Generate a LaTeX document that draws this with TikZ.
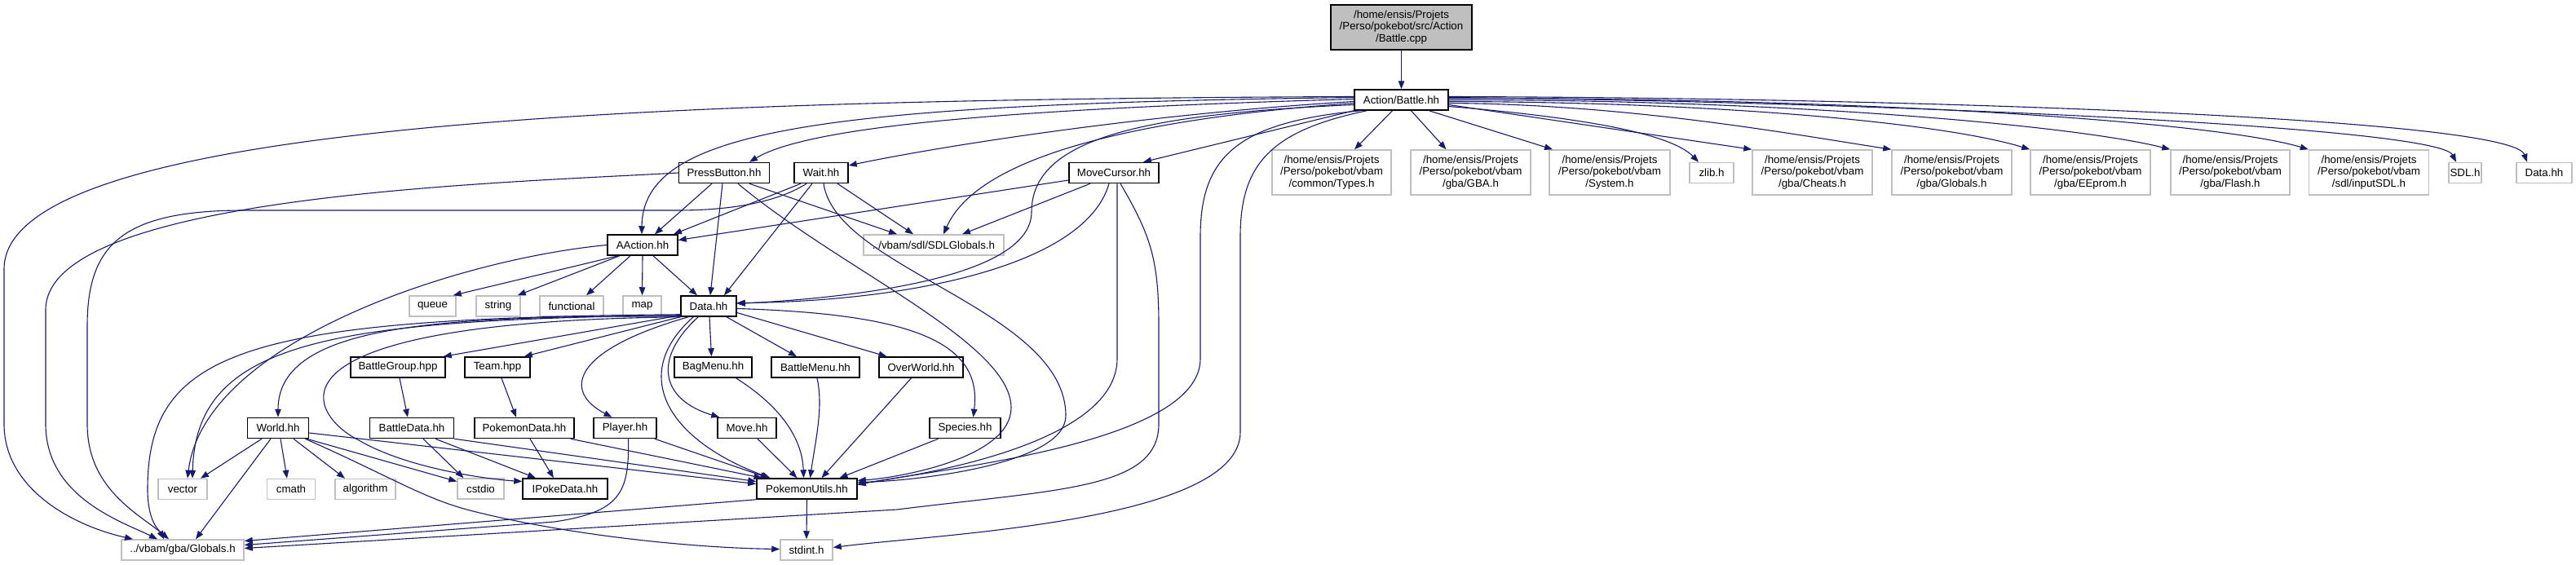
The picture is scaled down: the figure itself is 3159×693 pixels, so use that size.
\documentclass[tikz,border=0pt]{standalone}
\usepackage{fontspec}
\setmainfont{Liberation Sans}
\usetikzlibrary{arrows.meta}
\definecolor{edgec}{HTML}{191970}
\definecolor{grayb}{HTML}{BFBFBF}
\begin{document}
\begin{tikzpicture}[x=1pt,y=-1pt,
  every node/.style={font=\fontsize{13.3}{14.5}\selectfont, inner sep=0pt, align=center},
  hbox/.style={draw=black, line width=1.5pt, fill=white, minimum height=25pt},
  xbox/.style={draw=grayb, line width=1.5pt, fill=white, minimum height=25pt},
  xbox3/.style={draw=grayb, line width=1.5pt, fill=white, minimum height=55pt},
  rootbox/.style={draw=black, line width=1.5pt, fill=grayb, minimum height=55pt},
  dep/.style={draw=edgec, line width=1.1pt, -{Triangle[length=10pt,width=7.5pt]}},
]
\useasboundingbox[fill=white] (0,0) rectangle (3159,693);

% ---------- nodes ----------
\node[rootbox, minimum width=173pt] (cpp) at (1718.5,33.5) {/home/ensis/Projets\\/Perso/pokebot/src/Action\\/Battle.cpp};
\node[hbox, minimum width=115pt] (battlehh) at (1718.5,122.5) {Action/Battle.hh};

\node[hbox, minimum width=111pt] (pressbutton) at (888,212) {PressButton.hh};
\node[hbox, minimum width=66pt] (wait) at (1007,212) {Wait.hh};
\node[hbox, minimum width=110pt] (movecursor) at (1366,212) {MoveCursor.hh};
\node[xbox3, minimum width=146pt] (types) at (1633,211.5) {/home/ensis/Projets\\/Perso/pokebot/vbam\\/common/Types.h};
\node[xbox3, minimum width=147pt] (gbah) at (1803.5,211.5) {/home/ensis/Projets\\/Perso/pokebot/vbam\\/gba/GBA.h};
\node[xbox3, minimum width=148pt] (systemh) at (1974,211.5) {/home/ensis/Projets\\/Perso/pokebot/vbam\\/System.h};
\node[xbox, minimum width=54pt] (zlib) at (2099,212) {zlib.h};
\node[xbox3, minimum width=147pt] (cheats) at (2222.5,211.5) {/home/ensis/Projets\\/Perso/pokebot/vbam\\/gba/Cheats.h};
\node[xbox3, minimum width=147pt] (vglobals) at (2393.5,211.5) {/home/ensis/Projets\\/Perso/pokebot/vbam\\/gba/Globals.h};
\node[xbox3, minimum width=147pt] (eeprom) at (2563.5,211.5) {/home/ensis/Projets\\/Perso/pokebot/vbam\\/gba/EEprom.h};
\node[xbox3, minimum width=146pt] (flash) at (2735,211.5) {/home/ensis/Projets\\/Perso/pokebot/vbam\\/gba/Flash.h};
\node[xbox3, minimum width=147pt] (inputsdl) at (2905,211.5) {/home/ensis/Projets\\/Perso/pokebot/vbam\\/sdl/inputSDL.h};
\node[xbox, minimum width=40pt] (sdlh) at (3023,212) {SDL.h};
\node[xbox, minimum width=68pt] (data2) at (3120,212) {Data.hh};

\node[hbox, minimum width=86pt] (aaction) at (788,300.5) {AAction.hh};
\node[xbox, minimum width=172pt] (sdlglobals) at (1145,300.5) {../vbam/sdl/SDLGlobals.h};

\node[xbox, minimum width=57pt] (queue) at (530.5,375.5) {queue};
\node[xbox, minimum width=54pt] (string) at (611,375.5) {string};
\node[xbox, minimum width=78pt] (functional) at (701,375.5) {functional};
\node[xbox, minimum width=47pt] (map) at (787.5,375.5) {map};
\node[hbox, minimum width=68pt] (datahh) at (869,375.5) {Data.hh};

\node[hbox, minimum width=116pt] (battlegroup) at (488,450.5) {BattleGroup.hpp};
\node[hbox, minimum width=80pt] (team) at (610,450.5) {Team.hpp};
\node[hbox, minimum width=95pt] (bagmenu) at (874.5,450.5) {BagMenu.hh};
\node[hbox, minimum width=108pt] (battlemenu) at (1000,450.5) {BattleMenu.hh};
\node[hbox, minimum width=103pt] (overworld) at (1129.5,450.5) {OverWorld.hh};

\node[hbox, minimum width=75pt] (world) at (341,525) {World.hh};
\node[hbox, minimum width=103pt] (battledata) at (505,525) {BattleData.hh};
\node[hbox, minimum width=122pt] (pokemondata) at (643,525) {PokemonData.hh};
\node[hbox, minimum width=77pt] (player) at (766.5,525) {Player.hh};
\node[hbox, minimum width=72pt] (move) at (916,525) {Move.hh};
\node[hbox, minimum width=87pt] (species) at (1183.5,525) {Species.hh};

\node[xbox, minimum width=60pt] (vector) at (224,600) {vector};
\node[xbox, minimum width=59pt] (cmath) at (357,600) {cmath};
\node[xbox, minimum width=74pt] (algorithm) at (448,600) {algorithm};
\node[xbox, minimum width=57pt] (cstdio) at (589.5,599.5) {cstdio};
\node[hbox, minimum width=104pt] (ipokedata) at (693,599.5) {IPokeData.hh};
\node[hbox, minimum width=123pt] (pokemonutils) at (989.5,599.5) {PokemonUtils.hh};

\node[xbox, minimum width=150pt] (globalsgba) at (224,674.5) {../vbam/gba/Globals.h};
\node[xbox, minimum width=64pt] (stdint) at (989,674.5) {stdint.h};

% ---------- edges ----------
\draw[dep] (cpp) -- (battlehh);

% Action/Battle.hh
\draw[dep] ([yshift=4pt]battlehh.west) .. controls (800,122) and (5,150) .. (5,330) -- (5,520) .. controls (5,600) and (90,645) .. ([xshift=-61pt]globalsgba.north);
\draw[dep] ([yshift=3pt]battlehh.west) .. controls (1000,128) and (788,160) .. ([xshift=-1pt]aaction.north);
\draw[dep] ([yshift=1pt]battlehh.west) .. controls (1300,132) and (1000,150) .. ([xshift=31pt]pressbutton.north);
\draw[dep] ([yshift=-2pt]battlehh.west) .. controls (1400,140) and (1150,180) .. ([yshift=9pt]wait.east);
\draw[dep] ([yshift=-4pt]battlehh.west) .. controls (1400,145) and (1200,190) .. ([xshift=12pt]sdlglobals.north);
\draw[dep] ([yshift=-6pt]battlehh.west) .. controls (1400,140) and (1265,170) .. (1265,260) .. controls (1265,340) and (1050,365) .. ([yshift=3pt]datahh.east);
\draw[dep] (battlehh.south west) -- ([xshift=36pt]movecursor.north);
\draw[dep] ([xshift=8pt]battlehh.south west) .. controls (1520,150) and (1472,190) .. (1472,290) -- (1472,440) .. controls (1472,545) and (1150,575) .. ([yshift=5pt]pokemonutils.east);
\draw[dep] ([xshift=16pt]battlehh.south west) .. controls (1560,160) and (1521,200) .. (1521,290) -- (1521,530) .. controls (1521,640) and (1150,655) .. ([yshift=3pt]stdint.east);
\draw[dep] ([xshift=-11pt]battlehh.south) -- ([xshift=28pt]types.north);
\draw[dep] ([xshift=12pt]battlehh.south) -- ([xshift=-30pt]gbah.north);
\draw[dep] ([xshift=34pt]battlehh.south) -- ([xshift=-70pt]systemh.north);
\draw[dep] ([yshift=-8pt]battlehh.east) .. controls (1950,145) and (2050,165) .. ([xshift=-16pt]zlib.north);
\draw[dep] ([yshift=-6pt]battlehh.east) -- (cheats.north west);
\draw[dep] ([yshift=-4pt]battlehh.east) .. controls (2000,128) and (2200,165) .. (vglobals.north west);
\draw[dep] ([yshift=-2pt]battlehh.east) .. controls (2100,125) and (2380,150) .. (eeprom.north west);
\draw[dep] (battlehh.east) .. controls (2200,122) and (2550,155) .. (flash.north west);
\draw[dep] ([yshift=2pt]battlehh.east) .. controls (2300,120) and (2720,150) .. (inputsdl.north west);
\draw[dep] ([yshift=3pt]battlehh.east) .. controls (2300,125) and (2990,155) .. ([xshift=-11pt]sdlh.north);
\draw[dep] ([yshift=4pt]battlehh.east) .. controls (2350,120) and (3080,145) .. ([xshift=-21pt]data2.north);

% PressButton.hh
\draw[dep] (pressbutton.west) .. controls (600,225) and (56,240) .. (56,380) -- (56,520) .. controls (56,610) and (150,640) .. ([xshift=-31pt]globalsgba.north);
\draw[dep] ([xshift=-15pt]pressbutton.south) -- ([xshift=15pt]aaction.north);
\draw[dep] ([xshift=-2pt]pressbutton.south) -- ([xshift=2pt]datahh.north);
\draw[dep] ([xshift=17pt]pressbutton.south) .. controls (1030,330) and (1240,420) .. (1240,500) .. controls (1240,560) and (1110,585) .. ([yshift=10pt]pokemonutils.east);
\draw[dep] ([xshift=31pt]pressbutton.south) -- ([xshift=-45pt]sdlglobals.north);

% Wait.hh
\draw[dep] ([xshift=-18pt]wait.south) .. controls (950,250) and (890,258) .. (830,258) -- (300,258) .. controls (150,258) and (107,300) .. (107,400) -- (107,520) .. controls (107,600) and (170,630) .. ([xshift=-17pt]globalsgba.north);
\draw[dep] ([xshift=-25pt]wait.south) -- ([xshift=38pt]aaction.north);
\draw[dep] ([xshift=-11pt]wait.south) -- ([xshift=19pt]datahh.north);
\draw[dep] ([xshift=3pt]wait.south) .. controls (1025,330) and (1307,380) .. (1307,510) .. controls (1307,570) and (1120,590) .. ([yshift=8pt]pokemonutils.east);
\draw[dep] ([xshift=20pt]wait.south) -- ([xshift=-25pt]sdlglobals.north);

% MoveCursor.hh
\draw[dep] ([yshift=-9pt]movecursor.west) -- ([yshift=6pt]aaction.east);
\draw[dep] ([xshift=-29pt]movecursor.south) -- ([xshift=35pt]sdlglobals.north);
\draw[dep] ([xshift=-6pt]movecursor.south) .. controls (1330,330) and (1100,370) .. ([yshift=4pt]datahh.east);
\draw[dep] ([xshift=4pt]movecursor.south) -- (1370,440) .. controls (1370,540) and (1150,580) .. ([yshift=6pt]pokemonutils.east);
\draw[dep] ([xshift=8pt]movecursor.south) .. controls (1412,290) and (1421,320) .. (1421,400) -- (1421,520) .. controls (1421,600) and (1300,600) .. (1100,625) -- ([yshift=2pt]globalsgba.east);

% AAction.hh
\draw[dep] (aaction.west) .. controls (560,318) and (250,420) .. ([xshift=6pt]vector.north);
\draw[dep] ([xshift=-30pt]aaction.south) -- ([xshift=-4pt]queue.north east);
\draw[dep] ([xshift=-28pt]aaction.south) -- ([xshift=-4pt]string.north east);
\draw[dep] ([xshift=-15pt]aaction.south) -- ([xshift=18pt]functional.north);
\draw[dep] (aaction.south) -- (map.north);
\draw[dep] ([xshift=13pt]aaction.south) -- ([xshift=-14pt]datahh.north);

% Data.hh
\draw[dep] ([yshift=3pt]datahh.south west) .. controls (300,390) and (181,430) .. (181,600) .. controls (181,640) and (195,650) .. ([xshift=-23pt]globalsgba.north);
\draw[dep] ([yshift=2pt]datahh.south west) .. controls (400,392) and (240,420) .. ([xshift=12pt]vector.north);
\draw[dep] ([yshift=1pt]datahh.south west) .. controls (550,388) and (341,395) .. (world.north);
\draw[dep] (datahh.south west) .. controls (300,395) and (380,510) .. (440,540) .. controls (500,575) and (600,588) .. ([yshift=9pt]ipokedata.west);
\draw[dep] ([yshift=2pt]datahh.south west) -- ([xshift=-3pt]battlegroup.north east);
\draw[dep] (datahh.south west) -- ([xshift=-8pt]team.north east);
\draw[dep] ([xshift=10pt]datahh.south west) .. controls (700,430) and (690,480) .. ([xshift=-16pt]player.north);
\draw[dep] ([xshift=22pt]datahh.south west) .. controls (800,440) and (810,490) .. ([xshift=3pt]move.north west);
\draw[dep] ([xshift=16pt]datahh.south west) .. controls (770,460) and (820,540) .. ([xshift=-45pt]pokemonutils.north);
\draw[dep] ([xshift=1pt]datahh.south) -- ([xshift=-2pt]bagmenu.north);
\draw[dep] ([xshift=22pt]datahh.south) -- ([xshift=-23pt]battlemenu.north);
\draw[dep] ([yshift=-8pt]datahh.east) -- ([xshift=-42pt]overworld.north);
\draw[dep] ([yshift=-3pt]datahh.east) .. controls (1120,385) and (1205,420) .. ([xshift=10pt]species.north);

% World.hh
\draw[dep] ([xshift=-20pt]world.south) -- ([xshift=22pt]vector.north);
\draw[dep] ([xshift=-9pt]world.south) -- ([xshift=16pt]globalsgba.north);
\draw[dep] ([xshift=3pt]world.south) -- ([xshift=-5pt]cmath.north);
\draw[dep] ([xshift=19pt]world.south) -- ([xshift=-25pt]algorithm.north);
\draw[dep] ([xshift=-3pt]world.south east) -- ([yshift=9pt]cstdio.west);
\draw[dep] ([xshift=-5pt]world.south east) .. controls (480,585) and (520,612) .. (580,627) .. controls (700,657) and (850,672) .. ([yshift=1pt]stdint.west);
\draw[dep] ([yshift=-6pt]world.east) -- ([yshift=6pt]pokemonutils.west);

% BattleGroup, Team
\draw[dep] ([xshift=2pt]battlegroup.south) -- ([xshift=-5pt]battledata.north);
\draw[dep] ([xshift=5pt]team.south) -- ([xshift=-10pt]pokemondata.north);

% BattleData
\draw[dep] ([xshift=14pt]battledata.south) -- ([xshift=-21pt]cstdio.north);
\draw[dep] ([xshift=29pt]battledata.south) -- ([xshift=-36pt]ipokedata.north);
\draw[dep] (battledata.south east) -- ([yshift=9pt]pokemonutils.west);

% PokemonData
\draw[dep] ([xshift=7pt]pokemondata.south) -- ([xshift=-14pt]ipokedata.north);
\draw[dep] ([xshift=-5pt]pokemondata.south east) -- ([xshift=-55pt]pokemonutils.north);

% Player
\draw[dep] ([xshift=-3pt]player.south east) -- ([xshift=-47pt]pokemonutils.north);
\draw[dep] ([xshift=4pt]player.south) .. controls (772,605) and (760,628) .. (680,640) -- ([yshift=6pt]globalsgba.east);

% Move, menus, species
\draw[dep] ([xshift=13pt]move.south) -- ([xshift=-12pt]pokemonutils.north);
\draw[dep] ([xshift=28pt]bagmenu.south) .. controls (960,500) and (984,540) .. ([xshift=-4pt]pokemonutils.north);
\draw[dep] ([xshift=2pt]battlemenu.south) .. controls (1010,500) and (1000,540) .. ([xshift=4pt]pokemonutils.north);
\draw[dep] ([xshift=-12pt]overworld.south) -- ([xshift=18pt]pokemonutils.north);
\draw[dep] ([xshift=-33pt]species.south) -- ([xshift=40pt]pokemonutils.north);

% PokemonUtils
\draw[dep] (pokemonutils.south) -- (stdint.north);
\draw[dep] (pokemonutils.south west) -- ([yshift=11pt]globalsgba.east);
\end{tikzpicture}
\end{document}
